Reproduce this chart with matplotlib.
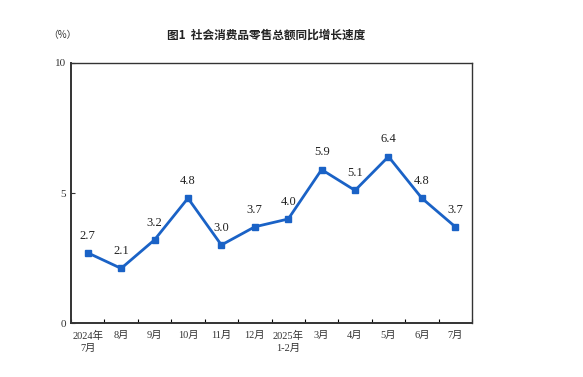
import numpy as np
import matplotlib.pyplot as plt

plt.rcParams['font.family'] = ['Liberation Serif', 'Noto Sans CJK SC']

months = ['2024年\n7月', '8月', '9月', '10月', '11月', '12月', '2025年\n1-2月',
          '3月', '4月', '5月', '6月', '7月']
growth = [2.7, 2.1, 3.2, 4.8, 3.0, 3.7, 4.0, 5.9, 5.1, 6.4, 4.8, 3.7]

fig = plt.figure(figsize=(5.83, 3.77), dpi=100)
ax = fig.add_axes([0.1218, 0.1432, 0.6878, 0.6897])

x = np.arange(len(months))
ax.plot(x, growth, color='#1a62c6', lw=2, marker='s', ms=4.5)
for xi, v in zip(x, growth):
    ax.annotate(f"{v:.1f}", (xi, v), xytext=(0, 8), textcoords='offset points',
                ha='center', va='bottom', fontsize=9, color='#222222')

ax.set_xlim(-0.5, len(months) - 0.5)
ax.set_ylim(0, 10)
ax.set_yticks([0, 5, 10])
ax.tick_params(axis='y', direction='in', length=3, labelsize=8, colors='#333333')

# boundary ticks, labels at category centres
ax.set_xticks(np.arange(-0.5, len(months), 1.0))
ax.set_xticklabels([])
ax.tick_params(axis='x', which='major', direction='in', length=3)
ax.set_xticks(x, minor=True)
ax.set_xticklabels(months, minor=True, fontsize=7.5, color='#333333', linespacing=1.3)
ax.tick_params(axis='x', which='minor', length=0, pad=6)

for s in ax.spines.values():
    s.set_color('#333333')
    s.set_linewidth(1.0)
ax.spines['left'].set_linewidth(1.4)
ax.spines['bottom'].set_linewidth(1.4)

fig.text(0.457, 0.907, '图1  社会消费品零售总额同比增长速度', ha='center', va='center',
         fontsize=8.4, family=['Noto Sans CJK SC'], weight='bold', color='#222222')
fig.text(0.107, 0.907, '（%）', ha='center', va='center', fontsize=7,
         family=['Noto Sans CJK SC'], color='#333333')

fig.savefig('out.png', dpi=100)
